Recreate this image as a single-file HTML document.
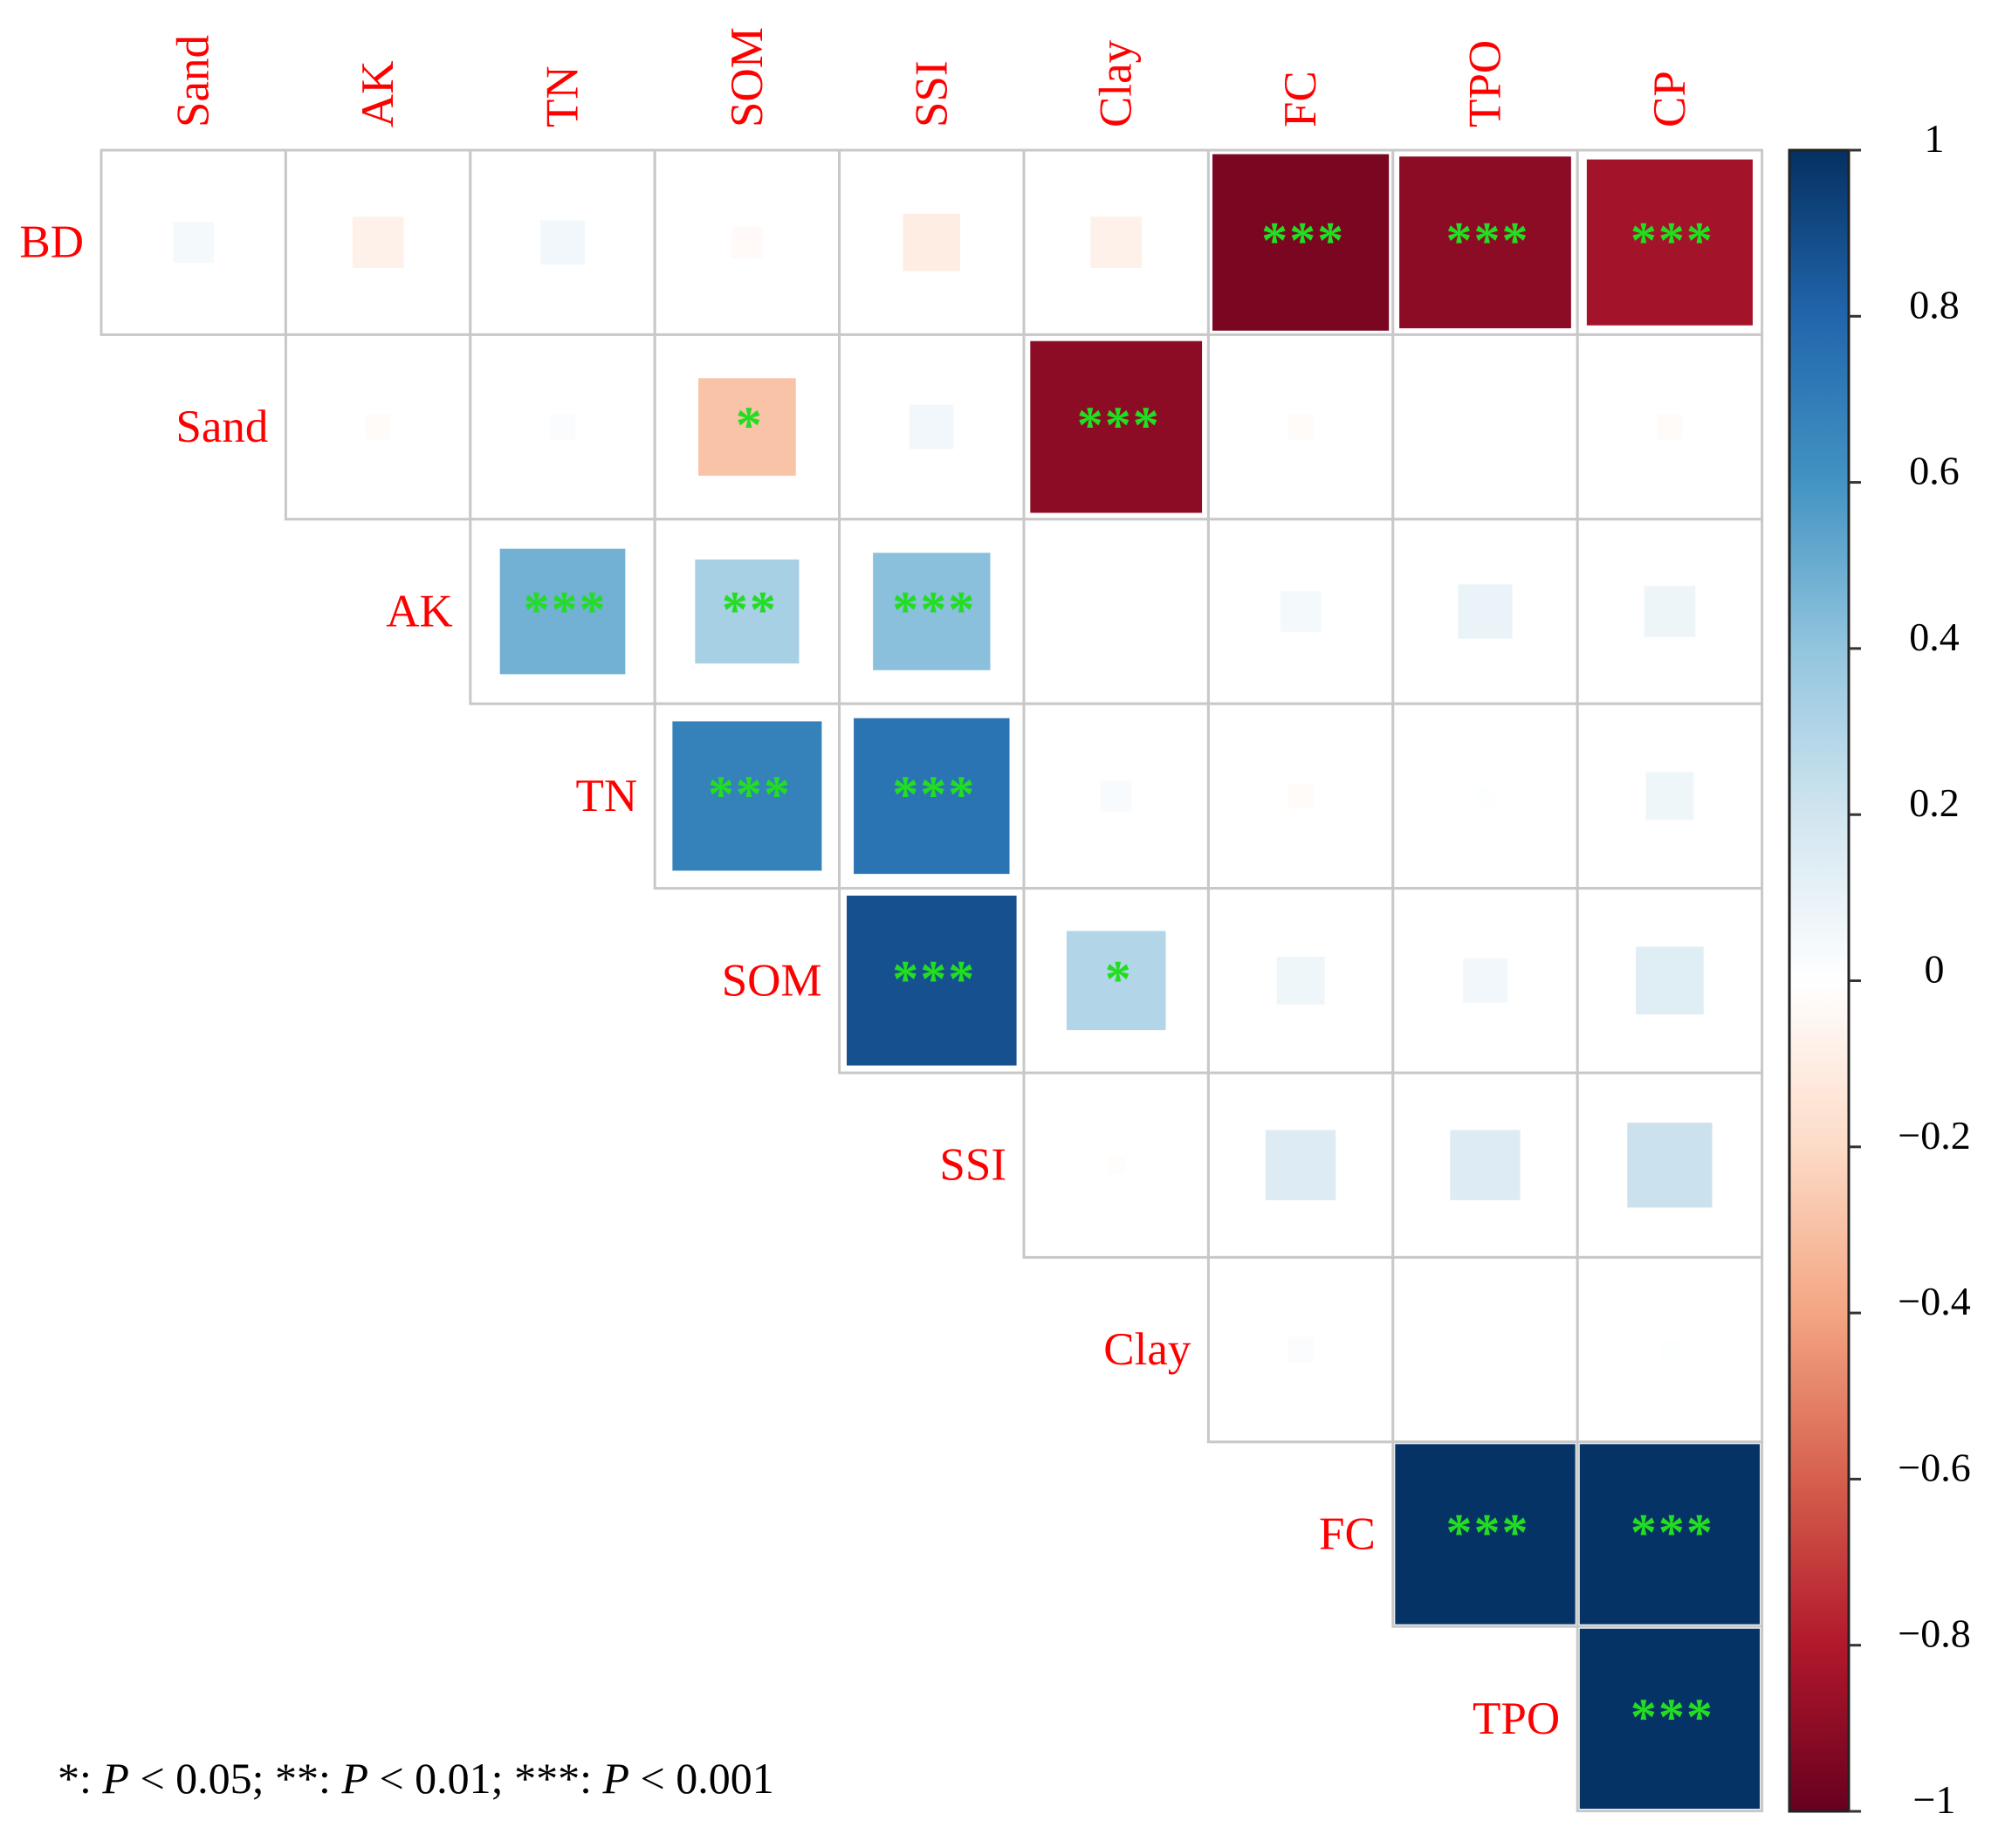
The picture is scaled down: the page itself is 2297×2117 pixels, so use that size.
<!DOCTYPE html>
<html><head><meta charset="utf-8"><style>
html,body{margin:0;padding:0;background:#fff;}
svg{display:block;}
text{font-family:"Liberation Serif",serif;}
</style></head><body>
<svg id="chart" width="2297" height="2117" viewBox="0 0 2297 2117" xmlns="http://www.w3.org/2000/svg">
<defs>
<linearGradient id="cbgrad" x1="0" y1="1" x2="0" y2="0">
<stop offset="0" stop-color="#67001F"/><stop offset="0.1" stop-color="#B2182B"/><stop offset="0.2" stop-color="#D6604D"/><stop offset="0.3" stop-color="#F4A582"/><stop offset="0.4" stop-color="#FDDBC7"/><stop offset="0.5" stop-color="#FFFFFF"/><stop offset="0.6" stop-color="#D1E5F0"/><stop offset="0.7" stop-color="#92C5DE"/><stop offset="0.8" stop-color="#4393C3"/><stop offset="0.9" stop-color="#2166AC"/><stop offset="1" stop-color="#053061"/>
</linearGradient>
</defs>
<g id="cells"></g>
<g id="labels"></g>
<g id="colorbar"></g>
<text x="66" y="2054" font-size="50" fill="#000">*: <tspan font-style="italic">P</tspan> &lt; 0.05; **: <tspan font-style="italic">P</tspan> &lt; 0.01; ***: <tspan font-style="italic">P</tspan> &lt; 0.001</text>
</svg>
<script>
const rowLabels = ["BD","Sand","AK","TN","SOM","SSI","Clay","FC","TPO"];
const colLabels = ["Sand","AK","TN","SOM","SSI","Clay","FC","TPO","CP"];
const corrBD   = [0.05,-0.08,0.06,-0.03,-0.10,-0.08,-0.95,-0.90,-0.84];
const corrSand = [-0.02,0.02,-0.29,0.06,-0.90,-0.02,0.00,-0.02];
const corrAK   = [0.48,0.33,0.42,0.00,0.05,0.09,0.08];
const corrTN   = [0.68,0.74,0.03,-0.02,0.01,0.07];
const corrSOM  = [0.88,0.30,0.07,0.06,0.14];
const corrSSI  = [-0.01,0.15,0.15,0.22];
const corrClay = [0.02,0.00,0.01];
const corrFC   = [0.99,0.99];
const corrTPO  = [0.99];
const sigBD   = ["","","","","","","***","***","***"];
const sigSand = ["","","*","","***","","",""];
const sigAK   = ["***","**","***","","","",""];
const sigTN   = ["***","***","","","",""];
const sigSOM  = ["***","*","","",""];
const sigSSI  = ["","","",""];
const sigClay = ["","",""];
const sigFC   = ["***","***"];
const sigTPO  = ["***"];
const cbTicks = [1,0.8,0.6,0.4,0.2,0,-0.2,-0.4,-0.6,-0.8,-1];

const corrRows = [corrBD,corrSand,corrAK,corrTN,corrSOM,corrSSI,corrClay,corrFC,corrTPO];
const sigRows = [sigBD,sigSand,sigAK,sigTN,sigSOM,sigSSI,sigClay,sigFC,sigTPO];

const NS="http://www.w3.org/2000/svg";
const X0=116, Y0=172, CELL=211.4;
const CBX=2050, CBW=68, CBTOP=172, CBBOT=2075;
const stops=[[-1,[103,0,31]],[-0.8,[178,24,43]],[-0.6,[214,96,77]],[-0.4,[244,165,130]],[-0.2,[253,219,199]],[0,[255,255,255]],[0.2,[209,229,240]],[0.4,[146,197,222]],[0.6,[67,147,195]],[0.8,[33,102,172]],[1,[5,48,97]]];
function color(v){
  for(let i=0;i<stops.length-1;i++){
    const a=stops[i],b=stops[i+1];
    if(v>=a[0]&&v<=b[0]){const t=(v-a[0])/(b[0]-a[0]);const c=a[1].map((x,k)=>Math.round(x+(b[1][k]-x)*t));return `rgb(${c[0]},${c[1]},${c[2]})`;}
  }
  return "#fff";
}
const xs=j=>X0+j*CELL, ys=i=>Y0+i*CELL;
const cbY=v=>CBTOP+(1-v)/2*(CBBOT-CBTOP);
function mk(tag,attrs,parent){const e=document.createElementNS(NS,tag);for(const k in attrs)e.setAttribute(k,attrs[k]);parent.appendChild(e);return e;}

const cells=document.getElementById('cells');
const labels=document.getElementById('labels');
const cb=document.getElementById('colorbar');

corrRows.forEach((row,i)=>{
  row.forEach((v,k)=>{
    const j=i+k;
    const bg=mk('rect',{x:xs(j),y:ys(i),width:CELL,height:CELL,fill:'#fff',stroke:'#c8c8c8','stroke-width':3},cells);
    
    
    const s=Math.sqrt(Math.abs(v))*(CELL-4);
    const cx=xs(j)+CELL/2, cy=ys(i)+CELL/2;
    const sq=mk('rect',{x:cx-s/2,y:cy-s/2,width:s,height:s,fill:color(v)},cells);
    
    
    const sig=sigRows[i][k];
    if(sig){
      const t=mk('text',{x:cx+3,y:cy+18,'text-anchor':'middle','font-size':60,'font-weight':'bold',fill:'#22dd22','font-family':'"Liberation Sans",sans-serif','letter-spacing':'2'},cells);
      t.textContent=sig;
      
      
    }
  });
  const rl=mk('text',{x:xs(i)-20,y:ys(i)+CELL/2+17,'text-anchor':'end','font-size':53,fill:'#ff0000'},labels);
  rl.textContent=rowLabels[i];
  
  
});
colLabels.forEach((c,j)=>{
  const x=xs(j)+CELL/2+17, y=146;
  const t=mk('text',{x:x,y:y,'font-size':53,fill:'#ff0000',transform:`rotate(-90 ${x} ${y})`},labels);
  t.textContent=c;
  
  
});
const bar=mk('rect',{x:CBX,y:CBTOP,width:CBW,height:CBBOT-CBTOP,fill:'url(#cbgrad)',stroke:'#222','stroke-width':3},cb);


cbTicks.forEach(v=>{
  const y=cbY(v);
  const tk=mk('line',{x1:CBX+CBW,x2:CBX+CBW+14,y1:y,y2:y,stroke:'#333','stroke-width':3},cb);
  
  
  const lab=mk('text',{x:2216,y:y+2,'text-anchor':'middle','font-size':46,fill:'#000'},cb);
  lab.textContent=(v<0?'\u2212':'')+String(Math.abs(v));
  
  
});
</script>
</body></html>
